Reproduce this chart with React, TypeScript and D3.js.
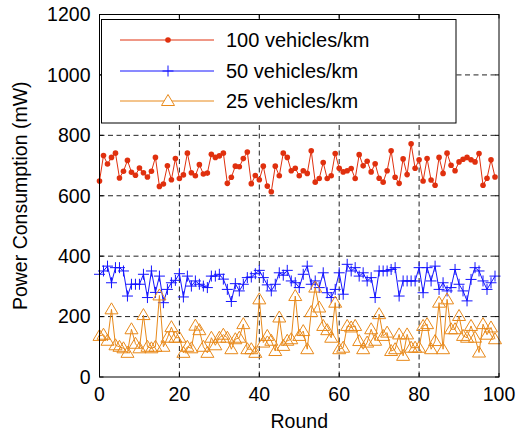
import React from "react";
import * as d3 from "d3";

const rounds: number[] = Array.from({ length: 100 }, (_, i) => i);

const series100: number[] = [
  649, 733, 705, 727, 741, 659, 681, 717, 678, 668,
  692, 676, 662, 681, 727, 631, 639, 699, 653, 723,
  657, 669, 741, 676, 666, 703, 672, 675, 737, 727,
  732, 741, 641, 661, 698, 696, 723, 745, 640, 667,
  653, 698, 632, 613, 698, 666, 741, 727, 683, 691,
  666, 683, 674, 749, 645, 657, 710, 657, 666, 740,
  691, 679, 683, 690, 657, 736, 699, 714, 679, 706,
  658, 645, 683, 749, 661, 641, 722, 670, 772, 691,
  719, 649, 723, 652, 635, 727, 674, 741, 701, 683,
  712, 721, 727, 719, 712, 740, 635, 658, 719, 662,
];

const series50: number[] = [
  340, 351, 367, 312, 362, 362, 351, 268, 307, 307,
  307, 340, 263, 351, 280, 334, 246, 290, 312, 320,
  342, 265, 334, 301, 318, 307, 301, 296, 334, 334,
  340, 324, 290, 250, 309, 285, 307, 329, 331, 342,
  353, 329, 305, 285, 307, 345, 337, 353, 318, 312,
  296, 340, 367, 307, 318, 296, 345, 279, 263, 290,
  345, 274, 373, 351, 362, 334, 345, 318, 329, 263,
  351, 351, 351, 356, 362, 268, 318, 318, 318, 318,
  362, 279, 362, 318, 367, 290, 312, 285, 296, 356,
  307, 285, 252, 323, 362, 351, 318, 290, 312, 334,
];

const series25: number[] = [
  136, 140, 120, 224, 105, 100, 95, 80, 158, 110,
  95, 205, 100, 95, 100, 270, 100, 130, 165, 130,
  130, 80, 100, 95, 170, 155, 100, 80, 130, 105,
  130, 140, 130, 92, 125, 130, 175, 92, 92, 80,
  257, 114, 136, 120, 86, 197, 103, 120, 125, 268,
  136, 152, 92, 215, 296, 230, 169, 155, 130, 246,
  92, 97, 169, 164, 169, 119, 92, 114, 158, 120,
  208, 136, 147, 86, 92, 141, 70, 141, 97, 97,
  97, 169, 175, 92, 119, 246, 92, 257, 158, 158,
  202, 136, 130, 169, 130, 81, 175, 140, 164, 125,
];

const legendLabels: string[] = ["100 vehicles/km", "50 vehicles/km", "25 vehicles/km"];
const xTicks: number[] = [0, 20, 40, 60, 80, 100];
const yTicks: number[] = [0, 200, 400, 600, 800, 1000, 1200];

const W = 522;
const H = 434;
const L = 99.5;
const R = 499;
const T = 14.5;
const B = 377;

const RED = "#e0300e";
const BLUE = "#1414ff";
const ORANGE = "#e8891a";
const FONT = "'Liberation Sans', Arial, sans-serif";

export default function App() {
  const x = d3.scaleLinear().domain([0, 100]).range([L, R]);
  const y = d3.scaleLinear().domain([0, 1200]).range([B, T]);
  const line = d3
    .line<number>()
    .x((_, i) => x(rounds[i]))
    .y((d) => y(d));

  const tri = (cx: number, cy: number) =>
    `M${cx},${cy - 6.5} L${cx - 6.5},${cy + 4.5} L${cx + 6.5},${cy + 4.5} Z`;
  const plus = (cx: number, cy: number) =>
    `M${cx - 5.5},${cy} H${cx + 5.5} M${cx},${cy - 5.5} V${cy + 5.5}`;

  const legendRows = [40, 71, 101];

  return (
    <svg
      width={W}
      height={H}
      style={{ position: "absolute", left: 0, top: 0, background: "#fff" }}
      fontFamily={FONT}
    >
      <rect x={0} y={0} width={W} height={H} fill="#fff" />
      {/* grid */}
      {xTicks.slice(1, -1).map((t) => (
        <line key={"gx" + t} x1={x(t)} x2={x(t)} y1={T} y2={B} stroke="#222" strokeWidth={1} strokeDasharray="5,3.5" />
      ))}
      {yTicks.slice(1, -1).map((t) => (
        <line key={"gy" + t} x1={L} x2={R} y1={y(t)} y2={y(t)} stroke="#222" strokeWidth={1} strokeDasharray="5,3.5" />
      ))}

      {/* series 100 */}
      <path d={line(series100) || ""} fill="none" stroke={RED} strokeWidth={1} />
      {series100.map((v, i) => (
        <circle key={"r" + i} cx={x(rounds[i])} cy={y(v)} r={2.8} fill={RED} />
      ))}

      {/* series 50 */}
      <path d={line(series50) || ""} fill="none" stroke={BLUE} strokeWidth={1} />
      {series50.map((v, i) => (
        <path key={"b" + i} d={plus(x(rounds[i]), y(v))} stroke={BLUE} strokeWidth={1} fill="none" />
      ))}

      {/* series 25 */}
      <path d={line(series25) || ""} fill="none" stroke={ORANGE} strokeWidth={1} />
      {series25.map((v, i) => (
        <path key={"o" + i} d={tri(x(rounds[i]), y(v))} stroke={ORANGE} strokeWidth={1} fill="none" />
      ))}

      {/* axes frame */}
      <rect x={L} y={T} width={R - L} height={B - T} fill="none" stroke="#000" strokeWidth={1} />
      {xTicks.map((t) => (
        <g key={"xt" + t}>
          <line x1={x(t)} x2={x(t)} y1={B} y2={B - 4} stroke="#000" />
          <line x1={x(t)} x2={x(t)} y1={T} y2={T + 4} stroke="#000" />
          <text x={x(t)} y={B + 24} textAnchor="middle" fontSize={19.5} fill="#000">
            {t}
          </text>
        </g>
      ))}
      {yTicks.map((t) => (
        <g key={"yt" + t}>
          <line x1={L} x2={L + 4} y1={y(t)} y2={y(t)} stroke="#000" />
          <line x1={R} x2={R - 4} y1={y(t)} y2={y(t)} stroke="#000" />
          <text x={L - 9} y={y(t)} dy="0.35em" textAnchor="end" fontSize={19.5} fill="#000">
            {t}
          </text>
        </g>
      ))}
      <text x={(L + R) / 2} y={H - 6} textAnchor="middle" fontSize={19.5} fill="#000">
        Round
      </text>
      <text
        transform={`translate(27,${(T + B) / 2}) rotate(-90)`}
        textAnchor="middle"
        fontSize={19.5}
        fill="#000"
      >
        Power Consumption (mW)
      </text>

      {/* legend */}
      <rect x={101.5} y={19.5} width={354.5} height={103.5} fill="#fff" stroke="#000" strokeWidth={1} />
      <line x1={120} x2={214} y1={legendRows[0]} y2={legendRows[0]} stroke={RED} strokeWidth={1} />
      <circle cx={168} cy={legendRows[0]} r={2.8} fill={RED} />
      <line x1={120} x2={214} y1={legendRows[1]} y2={legendRows[1]} stroke={BLUE} strokeWidth={1} />
      <path d={plus(168, legendRows[1])} stroke={BLUE} strokeWidth={1} />
      <line x1={120} x2={214} y1={legendRows[2]} y2={legendRows[2]} stroke={ORANGE} strokeWidth={1} />
      <path d={tri(168, legendRows[2])} stroke={ORANGE} strokeWidth={1} fill="#fff" />
      {legendLabels.map((lab, i) => (
        <text key={lab} x={226} y={legendRows[i]} dy="0.35em" fontSize={20} fill="#000">
          {lab}
        </text>
      ))}
    </svg>
  );
}
